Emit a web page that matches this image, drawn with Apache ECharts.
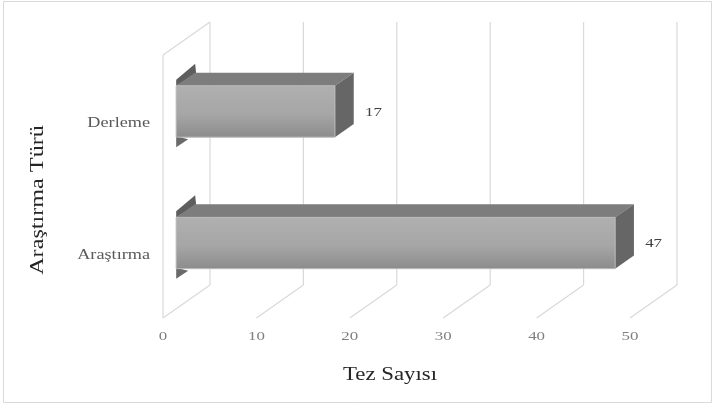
<!DOCTYPE html>
<html>
<head>
<meta charset="utf-8">
<script src="https://cdn.jsdelivr.net/npm/echarts@6/dist/echarts.min.js"></script>
<style>
  html, body { margin: 0; padding: 0; background: #ffffff; }
  #chart { width: 715px; height: 408px; }
</style>
</head>
<body>
<div id="chart"></div>
<script>
// Study types and thesis counts
const categories = ['Araştırma', 'Derleme'];
const counts = [47, 17];
const xTicks = [0, 10, 20, 30, 40, 50];
const xTitle = 'Tez Sayısı';
const yTitle = 'Araştırma Türü';

const FONT = '"Liberation Serif", "Times New Roman", serif';
const WIDE = 1.3;          // horizontal stretch of label text

// Pseudo-3D depth: offset from the front plane to the back wall
const DEPTH = [47, -33];
const BAR_FRONT = 0.28;   // depth fraction of a bar's front face
const BAR_BACK = 0.68;    // depth fraction of a bar's back face
const BAR_THICK = 0.39;   // bar height as fraction of the category band
const WALL = '#d9d9d9';

const chart = echarts.init(document.getElementById('chart'));

function wideText(x, y, text, size, color, align, rotation) {
  return {
    type: 'text', x, y, scaleX: WIDE, rotation: rotation || 0,
    style: { text, x: 0, y: 0, align, verticalAlign: 'middle', fill: color, font: size + 'px ' + FONT }
  };
}

// Back wall, floor and left wall lines plus the tick label, one set per x tick
function renderWalls(params, api) {
  const cs = params.coordSys;
  const v = api.value(0);
  const xf = api.coord([v, 0])[0];
  const xb = xf + DEPTH[0];
  const top = cs.y, bottom = cs.y + cs.height;
  const style = { stroke: WALL, lineWidth: 1.2 };
  const children = [
    { type: 'line', shape: { x1: xb, y1: top + DEPTH[1], x2: xb, y2: bottom + DEPTH[1] }, style },
    { type: 'line', shape: { x1: xf, y1: bottom, x2: xb, y2: bottom + DEPTH[1] }, style },
    wideText(xf, bottom + 19, String(v), 13, '#7f7f7f', 'center')
  ];
  if (v === 0) {
    children.push(
      { type: 'line', shape: { x1: xf, y1: top, x2: xf, y2: bottom }, style },
      { type: 'line', shape: { x1: xf, y1: top, x2: xb, y2: top + DEPTH[1] }, style }
    );
  }
  return { type: 'group', children };
}

// Box-shaped horizontal bars with a front, top and end face
function renderBars(params, api) {
  const val = api.value(0);
  const cat = api.value(1);
  const end = api.coord([val, cat]);
  const start = api.coord([0, cat]);
  const band = api.size([0, 1])[1];
  const h = band * BAR_THICK;
  const fx = DEPTH[0] * BAR_FRONT, fy = DEPTH[1] * BAR_FRONT;
  const dx = DEPTH[0] * (BAR_BACK - BAR_FRONT), dy = DEPTH[1] * (BAR_BACK - BAR_FRONT);
  const x0 = start[0] + fx, x1 = end[0] + fx;
  const yT = end[1] + fy - h / 2, yB = yT + h;
  const cy = (yT + yB) / 2;

  return {
    type: 'group',
    children: [
      { // left end cap sliver
        type: 'polygon',
        shape: { points: [[x0, yT], [x0, yT - 6], [x0 + 19, yT - 22], [x0 + 20, yT - 12]] },
        style: { fill: '#5e5e5e' }
      },
      {
        type: 'polygon',
        shape: { points: [[x0, yB - 1], [x0, yB + 10], [x0 + 12, yB + 2]] },
        style: { fill: '#6a6a6a' }
      },
      { // top face
        type: 'polygon',
        shape: { points: [[x0, yT], [x1, yT], [x1 + dx, yT + dy], [x0 + dx, yT + dy]] },
        style: { fill: '#7d7d7d' }
      },
      { // end face
        type: 'polygon',
        shape: { points: [[x1, yT], [x1 + dx, yT + dy], [x1 + dx, yB + dy], [x1, yB]] },
        style: { fill: '#666666' }
      },
      { // front face
        type: 'rect',
        shape: { x: x0, y: yT, width: x1 - x0, height: h },
        style: {
          fill: new echarts.graphic.LinearGradient(0, 0, 0, 1, [
            { offset: 0, color: '#b0b0b0' },
            { offset: 0.55, color: '#a6a6a6' },
            { offset: 1, color: '#8c8c8c' }
          ]),
          stroke: '#b8b8b8', lineWidth: 1
        }
      },
      // value label
      wideText(x1 + 30, cy + 1, String(val), 13, '#404040', 'left'),
      // category label
      wideText(start[0] - 13, end[1] + 3, categories[cat], 14, '#595959', 'right')
    ]
  };
}

chart.setOption({
  backgroundColor: '#ffffff',
  animation: false,
  graphic: [
    {
      type: 'rect', silent: true, z: -10,
      shape: { x: 3.5, y: 1.5, width: 708, height: 401 },
      style: { fill: 'none', stroke: '#d9d9d9', lineWidth: 1 }
    },
    {
      type: 'text', x: 390, y: 375, scaleX: 1.17, silent: true,
      style: { text: xTitle, x: 0, y: 0, align: 'center', verticalAlign: 'middle', fill: '#262626', font: '19.5px ' + FONT }
    },
    {
      type: 'text', x: 38, y: 200, scaleX: 1.24, rotation: Math.PI / 2, silent: true,
      style: { text: yTitle, x: 0, y: 0, align: 'center', verticalAlign: 'middle', fill: '#262626', font: '19.5px ' + FONT }
    }
  ],
  grid: { left: 163, top: 55, width: 467, height: 263, containLabel: false },
  xAxis: {
    type: 'value', min: 0, max: 50, interval: 10,
    axisLine: { show: false }, axisTick: { show: false }, splitLine: { show: false },
    axisLabel: { show: false }
  },
  yAxis: {
    type: 'category', data: categories,
    axisLine: { show: false }, axisTick: { show: false }, splitLine: { show: false },
    axisLabel: { show: false }
  },
  series: [
    {
      type: 'custom', name: 'walls', renderItem: renderWalls,
      data: xTicks.map(t => [t]), encode: { x: 0 }, z: 1, silent: true
    },
    {
      type: 'custom', name: xTitle, renderItem: renderBars,
      data: counts.map((c, i) => [c, i]), encode: { x: 0, y: 1 }, z: 2
    }
  ]
});
</script>
</body>
</html>
